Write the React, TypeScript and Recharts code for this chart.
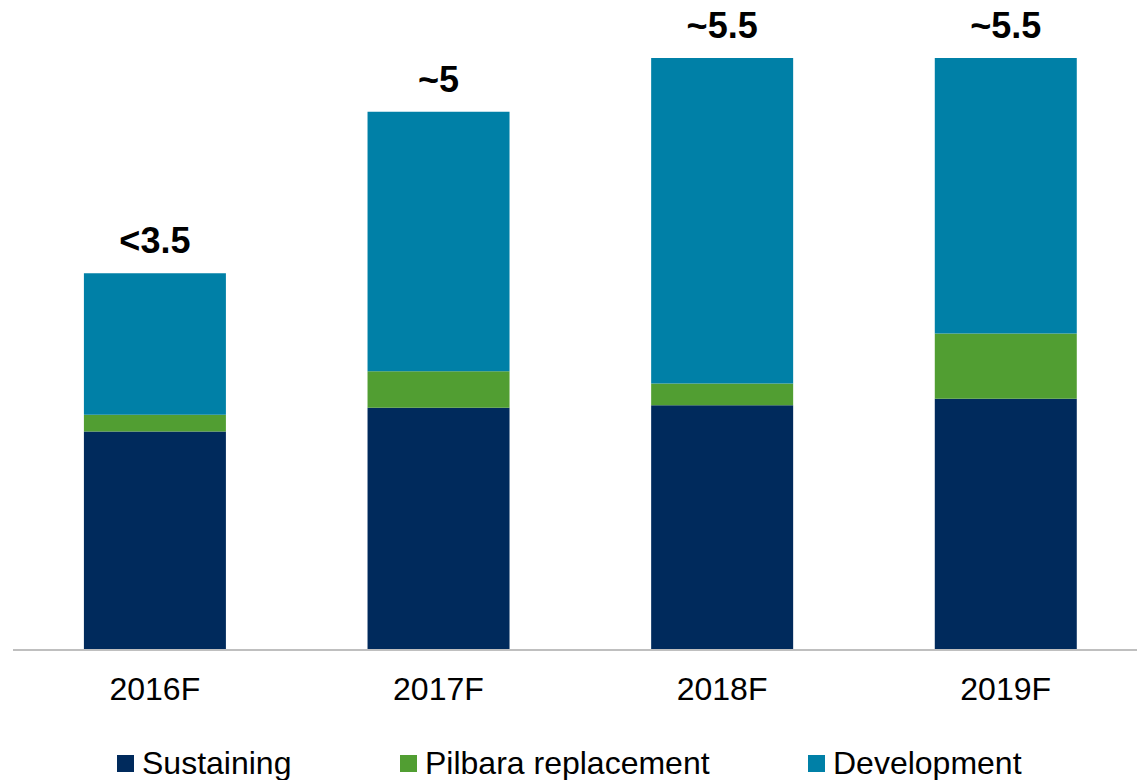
import { BarChart, Bar, XAxis, YAxis, LabelList, Legend } from 'recharts';

const years = ['2016F', '2017F', '2018F', '2019F'];
const sustaining = [2.03, 2.25, 2.275, 2.335];
const pilbara = [0.155, 0.34, 0.2, 0.605];
const development = [1.315, 2.41, 3.025, 2.56];
const totals = ['<3.5', '~5', '~5.5', '~5.5'];

const SERIES = [
  { key: 'sustaining', name: 'Sustaining', color: '#002A5C' },
  { key: 'pilbara', name: 'Pilbara replacement', color: '#519E32' },
  { key: 'development', name: 'Development', color: '#0080A7' },
];

const data = years.map((year, i) => ({
  year,
  sustaining: sustaining[i],
  pilbara: pilbara[i],
  development: development[i],
  total: totals[i],
}));

const FONT = '"Liberation Sans", Arial, sans-serif';
const legendLeft = [117, 400, 808];

const CustomLegend = () => (
  <div style={{ position: 'relative', height: 32, width: 1137, fontFamily: FONT }}>
    {SERIES.map((s, i) => (
      <div
        key={s.key}
        style={{
          position: 'absolute',
          left: legendLeft[i],
          top: 0,
          height: 32,
          display: 'flex',
          alignItems: 'center',
          whiteSpace: 'nowrap',
        }}
      >
        <span style={{ width: 17, height: 17, background: s.color, marginRight: 8, display: 'inline-block' }} />
        <span style={{ fontSize: 32, lineHeight: '32px', color: '#000' }}>{s.name}</span>
      </div>
    ))}
  </div>
);

export default function App() {
  return (
    <div style={{ position: 'absolute', top: 0, left: 0 }}>
      <BarChart
        width={1137}
        height={780}
        data={data}
        margin={{ top: 58, right: 0, bottom: 100, left: 13 }}
        barCategoryGap="25%"
      >
        <XAxis
          dataKey="year"
          height={30}
          axisLine={{ stroke: '#BFBFBF', strokeWidth: 2 }}
          tickLine={false}
          tickSize={0}
          tickMargin={27}
          padding={{ left: 0, right: -10.5 }}
          tick={{ fill: '#000', fontSize: 32, fontFamily: FONT }}
          interval={0}
        />
        <YAxis hide domain={[0, 5.5]} allowDataOverflow />
        <Legend
          verticalAlign="middle"
          align="center"
          wrapperStyle={{ top: 747, left: 0, width: 1137, height: 32 }}
          content={() => <CustomLegend />}
        />
        {SERIES.map((s) => (
          <Bar key={s.key} dataKey={s.key} name={s.name} stackId="a" fill={s.color} isAnimationActive={false}>
            {s.key === 'development' && (
              <LabelList
                dataKey="total"
                position="top"
                offset={20}
                fill="#000"
                fontSize={36}
                fontWeight="bold"
                fontFamily={FONT}
              />
            )}
          </Bar>
        ))}
      </BarChart>
    </div>
  );
}
